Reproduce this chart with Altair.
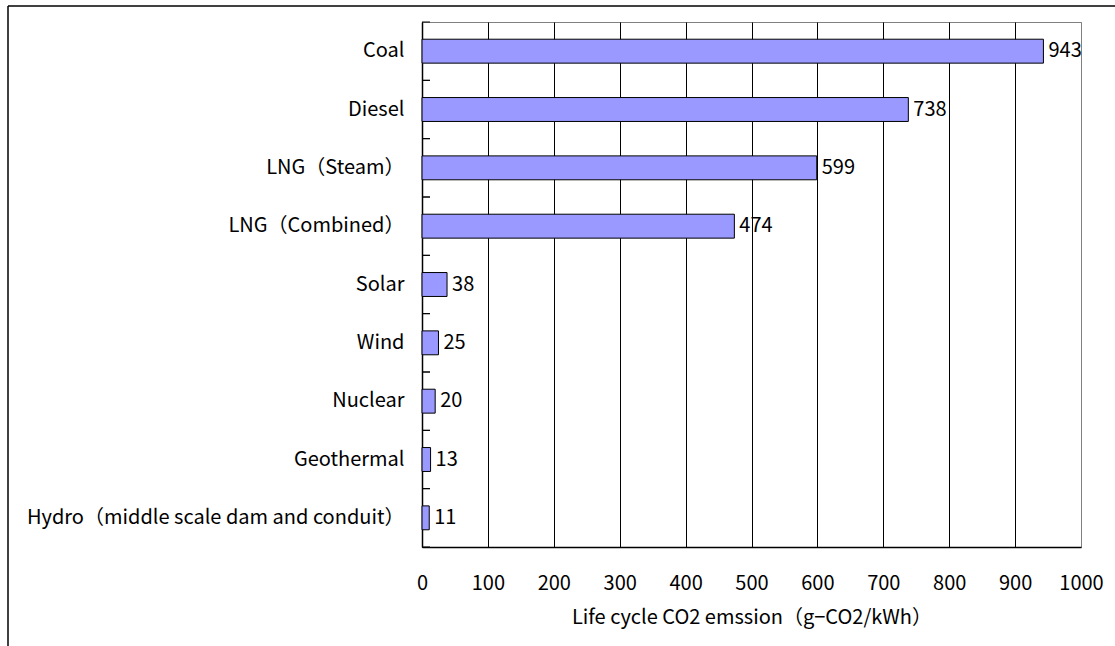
import altair as alt
import pandas as pd

categories = ["Coal", "Diesel", "LNG（Steam）", "LNG（Combined）", "Solar", "Wind",
              "Nuclear", "Geothermal", "Hydro（middle scale dam and conduit）"]
values = [943, 738, 599, 474, 38, 25, 20, 13, 11]
x_ticks = [0, 100, 200, 300, 400, 500, 600, 700, 800, 900, 1000]
x_title = "Life cycle CO2 emssion（g−CO2/kWh）"

FONT = "Noto Sans CJK JP"
df = pd.DataFrame({"cat": categories, "val": values})

P_INNER = 0.59
yscale = alt.Scale(paddingInner=P_INNER, paddingOuter=P_INNER / 2)
xscale = alt.Scale(domain=[0, 1000], nice=False)

base = alt.Chart(df)

bars = base.mark_bar(color="#9999FF", stroke="black", strokeWidth=1).encode(
    y=alt.Y("cat:N", sort=categories, scale=yscale,
            axis=alt.Axis(title=None, ticks=False, labelPadding=18, domain=True,
                          domainColor="black", domainWidth=1.5, labelFontSize=20,
                          labelColor="black", labelLimit=0, orient="left")),
    x=alt.X("val:Q", scale=xscale,
            axis=alt.Axis(values=x_ticks, format="d", grid=True,
                          gridColor=alt.condition("datum.value >= 1000",
                                                  alt.value("#808080"), alt.value("black")),
                          gridOpacity=1,
                          ticks=False, labelPadding=26, title=x_title, titleFontSize=20,
                          titleFontWeight="normal", titleColor="black", titlePadding=14,
                          labelFontSize=20, labelColor="black", domainColor="black",
                          domainWidth=1.5, labelFlush=False, orient="bottom")),
)

labels = base.mark_text(align="left", baseline="middle", dx=5, fontSize=20,
                        color="black").encode(
    y=alt.Y("cat:N", sort=categories),
    x=alt.X("val:Q"),
    text=alt.Text("val:Q"),
)

main = alt.layer(bars, labels)

tscale = alt.Scale(paddingInner=0, paddingOuter=0)
ticks_top = base.mark_rule(color="black", strokeWidth=1).encode(
    y=alt.Y("cat:N", sort=categories, scale=tscale, axis=None, bandPosition=0),
    x=alt.value(0), x2=alt.value(8),
)
ticks_bottom = base.mark_rule(color="black", strokeWidth=1).encode(
    y=alt.Y("cat:N", sort=categories, scale=tscale, axis=None, bandPosition=1),
    x=alt.value(0), x2=alt.value(8),
)
ticks = alt.layer(ticks_top, ticks_bottom)

one = pd.DataFrame({"a": [0]})
frame_left = alt.Chart(one).mark_rule(color="black", strokeWidth=1.5).encode(
    x=alt.value(-414), y=alt.value(-16), y2=alt.value(626))
frame_top = alt.Chart(one).mark_rule(color="black", strokeWidth=1.5).encode(
    x=alt.value(-414), x2=alt.value(700), y=alt.value(-16))

chart = alt.layer(main, ticks, frame_left, frame_top).resolve_scale(
    y="independent"
).properties(
    width=659, height=525,
    autosize=alt.AutoSizeParams(type="none"),
    padding={"left": 422, "top": 22, "right": 34, "bottom": 99},
    background="white",
).configure(font=FONT).configure_view(stroke="#808080", strokeWidth=1)

chart.save("out.html", embed_options={"renderer": "svg", "actions": False})
